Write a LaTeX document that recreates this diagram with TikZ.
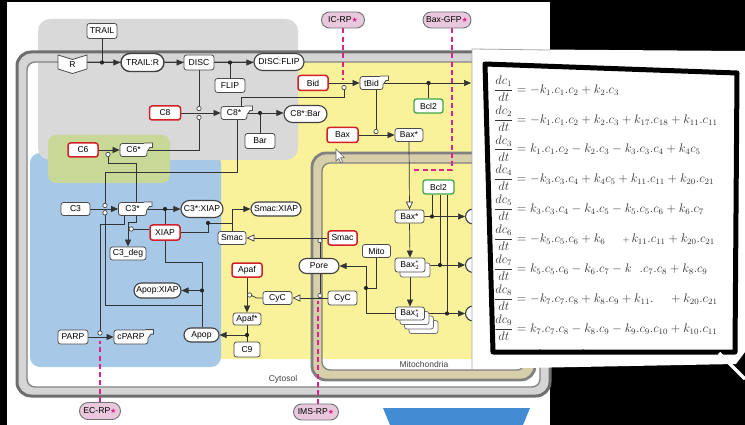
\documentclass[tikz,border=0pt]{standalone}
\usepackage{fontspec}
\usepackage{graphicx}
\setsansfont{Liberation Sans}
\newfontfamily\dejavu{DejaVu Sans}
\usetikzlibrary{arrows.meta,shapes.misc,calc}
\pgfdeclarelayer{bg}\pgfdeclarelayer{edges}\pgfdeclarelayer{top}
\pgfsetlayers{bg,edges,main,top}
\definecolor{yreg}{RGB}{250,241,155}
\definecolor{greg}{RGB}{217,217,217}
\definecolor{breg}{RGB}{168,200,232}
\definecolor{gnreg}{RGB}{200,216,150}
\definecolor{memfill}{RGB}{213,213,213}
\definecolor{memline}{RGB}{110,110,110}
\definecolor{mitofill}{RGB}{214,207,170}
\definecolor{mitoline}{RGB}{128,128,128}
\definecolor{nline}{RGB}{75,75,75}
\definecolor{redl}{RGB}{208,32,40}
\definecolor{grnl}{RGB}{64,165,72}
\definecolor{rpfill}{RGB}{233,200,222}
\definecolor{rpmag}{RGB}{226,32,140}
\definecolor{blueshape}{RGB}{66,140,212}
\newcommand\rpstar{{\color{rpmag}\dejavu\fontsize{7}{8}\selectfont ★}}
\newcommand\dotat[1]{\fill[black!85] (#1) circle (2.1pt);}
\newcommand\circat[1]{\draw[black!80,line width=0.6pt,fill=white] (#1) circle (2.2pt);}
\newcommand\actab[1]{%
  \fill[white] ($(#1.north east)+(-3,0)$) -- ++(8,0) -- ++(0,4.5) -- ++(-2.5,0) -- ++(-2.5,3.5) -- ++(-3,0) -- cycle;
  \draw[nline,line width=0.8pt] ($(#1.north east)+(-3,0)$) -- ++(8,0) -- ++(0,4.5) -- ++(-2.5,0) -- ++(-2.5,3.5);}
\newcommand\eqs[1]{\scalebox{1.05}[1.04]{$\displaystyle #1$}}
\tikzset{
  box/.style={rectangle, rounded corners=2.5pt, draw=nline, fill=white, line width=0.8pt, inner sep=1pt},
  redbox/.style={box, draw=redl, line width=1.5pt},
  grnbox/.style={box, draw=grnl, line width=1.3pt},
  pill/.style={rounded rectangle, draw=black!75, fill=white, line width=1.1pt, inner xsep=1pt, inner ysep=1pt},
  rp/.style={pill, fill=rpfill, draw=black!55, line width=0.9pt},
  shadowbox/.style={box, draw=nline!80},
  link/.style={draw=black!80, line width=0.7pt},
  arr/.style={link, -{Triangle[length=7pt,width=6pt]}},
  oarr/.style={link, -{Triangle[open,length=8pt,width=7pt,fill=white]}},
  rpline/.style={draw=rpmag, line width=2.2pt, dash pattern=on 5pt off 3.3pt},
  eqn/.style={anchor=west, inner sep=0pt, text=black!80, font=\fontsize{12}{14}\selectfont},
  lbl/.style={font=\sffamily\fontsize{8.5}{10}\selectfont, text=black!75},
}
\begin{document}
\begin{tikzpicture}[x=1pt,y=-1pt,font=\sffamily\fontsize{8.6}{10}\selectfont]
\useasboundingbox (0,0) rectangle (745,425);
% ---------------- background and regions
\begin{pgfonlayer}{bg}
\fill[black] (0,0) rectangle (745,425);
\fill[white] (7,2.5) rectangle (550,425);
\fill[blueshape] (383,408) -- (530,408) -- (523,425) -- (390,425) -- cycle;
\fill[yreg, rounded corners=6] (292,57) -- (560,57) -- (560,359) -- (177,359) -- (177,307) -- (130,307) -- (130,263) -- (213,263) -- (213,158) -- (292,158) -- cycle;
\fill[breg, rounded corners=10] (30,153) rectangle (221,367);
\fill[greg, rounded corners=12] (38,19) rectangle (298,160);
\fill[gnreg, rounded corners=8] (48,135) rectangle (170,183);
% cell membrane
\fill[memfill, even odd rule] [rounded corners=14] (17,52) rectangle (550,396) [rounded corners=8] (27,62) rectangle (540,387);
\draw[memline, line width=3pt, rounded corners=14] (17,52) rectangle (550,396);
\draw[memline!85, line width=1.4pt, rounded corners=8] (27,62) rectangle (540,387);
% mitochondrion membrane
\fill[mitofill, even odd rule] [rounded corners=14] (312,153) rectangle (535,380) [rounded corners=8] (322,163) rectangle (525,370);
\draw[mitoline, line width=2.8pt, rounded corners=14] (312,153) rectangle (535,380);
\draw[mitoline, line width=1.3pt, rounded corners=8] (322,163) rectangle (525,370);
\end{pgfonlayer}
% ---------------- nodes
\node[lbl] (cyt) at (283,379.5) {Cytosol};
\node[lbl] (mitlab) at (424,364.5) {Mitochondria};
\draw[fill=white, draw=black!60, line width=0.6pt] (336,149) -- (336,161) -- (338.8,158.5) -- (340.8,163) -- (342.6,162.2) -- (340.6,157.8) -- (344.3,157.6) -- cycle;
\draw[fill=white, draw=nline, line width=0.8pt] (58,55) -- (72.5,59.5) -- (87,55) -- (87,69) -- (72.5,73.5) -- (58,69) -- cycle;
\node[minimum width=29pt, minimum height=14pt, inner sep=0pt] (R) at (72.5,65) {R};
\node[box, minimum width=30pt, minimum height=15pt] (TRAIL) at (102,31) {TRAIL};
\node[pill, minimum width=45pt, minimum height=18pt, line width=1.4pt] (TRAILR) at (142.5,62.5) {TRAIL:R};
\node[box, minimum width=30pt, minimum height=15pt] (DISC) at (199,62.5) {DISC};
\node[pill, minimum width=52pt, minimum height=17pt] (DISCFLIP) at (279,62) {DISC:FLIP};
\node[box, minimum width=30pt, minimum height=14pt] (FLIP) at (230,85.5) {FLIP};
\node[redbox, minimum width=31pt, minimum height=14pt] (C8) at (165,113) {C8};
\node[box, minimum width=26pt, minimum height=13pt] (C8s) at (234,113) {C8*};
\node[pill, minimum width=45pt, minimum height=17pt] (C8Bar) at (305.5,114) {C8*:Bar};
\node[box, minimum width=30pt, minimum height=15pt] (Bar) at (260,141) {Bar};
\node[redbox, minimum width=30pt, minimum height=15pt] (Bid) at (313,83) {Bid};
\node[box, minimum width=23pt, minimum height=13pt] (tBid) at (371.5,83) {tBid};
\node[grnbox, minimum width=29pt, minimum height=14pt] (Bcl2a) at (428.5,106) {Bcl2};
\node[redbox, minimum width=31pt, minimum height=15pt] (Bax) at (342.5,135) {Bax};
\node[box, minimum width=28pt, minimum height=13pt] (Baxa) at (409,135) {Bax*};
\node[rp, minimum width=45pt, minimum height=16pt] (ICRP) at (343,20) {IC-RP\rpstar};
\node[rp, minimum width=50pt, minimum height=16pt] (BaxGFP) at (447,20) {Bax-GFP\rpstar};
\node[rp, minimum width=43pt, minimum height=17pt] (ECRP) at (100,411) {EC-RP\rpstar};
\node[rp, minimum width=47pt, minimum height=16pt] (IMSRP) at (316,412) {IMS-RP\rpstar};
\node[redbox, minimum width=30pt, minimum height=14pt] (C6) at (83,150) {C6};
\node[box, minimum width=27pt, minimum height=13pt] (C6s) at (133.5,150) {C6*};
\node[box, minimum width=29pt, minimum height=13pt] (C3) at (75.5,209) {C3};
\node[box, minimum width=28pt, minimum height=13pt] (C3s) at (132.5,209) {C3*};
\node[pill, minimum width=44pt, minimum height=17pt] (C3XIAP) at (202,209) {C3*:XIAP};
\node[redbox, minimum width=30pt, minimum height=15pt] (XIAP) at (165,232.5) {XIAP};
\node[box, minimum width=36pt, minimum height=13pt] (C3deg) at (128,253.5) {C3\_deg};
\node[pill, minimum width=52pt, minimum height=14pt] (SmacXIAP) at (276,209) {Smac:XIAP};
\node[box, minimum width=28pt, minimum height=13pt] (Smac) at (232,238) {Smac};
\node[redbox, minimum width=29pt, minimum height=14pt] (Smacm) at (342.5,238) {Smac};
\node[box, minimum width=28pt, minimum height=13pt] (Mito) at (376.5,251) {Mito};
\node[pill, minimum width=42pt, minimum height=15pt] (Pore) at (319,266) {Pore};
\node[redbox, minimum width=30pt, minimum height=14pt] (Apaf) at (247,270) {Apaf};
\node[box, minimum width=29pt, minimum height=13pt] (CyC) at (277.5,298) {CyC};
\node[box, minimum width=29pt, minimum height=14pt] (CyCm) at (342.5,298) {CyC};
\node[box, minimum width=28pt, minimum height=12pt] (Apafs) at (247,319) {Apaf*};
\node[box, minimum width=26pt, minimum height=15pt] (C9) at (247,349.5) {C9};
\node[pill, minimum width=37pt, minimum height=14pt] (Apop) at (201.5,335) {Apop};
\node[pill, minimum width=49pt, minimum height=15pt] (ApopXIAP) at (157.5,290.5) {Apop:XIAP};
\node[box, minimum width=30pt, minimum height=14pt] (PARP) at (73,337) {PARP};
\node[box, minimum width=34pt, minimum height=14pt] (cPARP) at (131,337) {cPARP};
\node[grnbox, minimum width=31pt, minimum height=14pt] (Bcl2m) at (438.5,187) {Bcl2};
\node[box, minimum width=29pt, minimum height=13pt] (Baxb) at (409.5,216.5) {Bax*};
\node[shadowbox, minimum width=30pt, minimum height=14pt] (Baxcsh) at (415,270) {};
\node[box, minimum width=30pt, minimum height=14pt] (Baxc) at (410,265) {Bax$^{*}_{2}$};
\node[shadowbox, minimum width=29pt, minimum height=13pt] (Baxdsh3) at (423.5,327) {};
\node[shadowbox, minimum width=29pt, minimum height=13pt] (Baxdsh2) at (419,322.5) {};
\node[shadowbox, minimum width=29pt, minimum height=13pt] (Baxdsh1) at (414.5,318) {};
\node[box, minimum width=29pt, minimum height=13pt] (Baxd) at (410,313.5) {Bax$^{*}_{4}$};
\node[pill, anchor=west, minimum width=36pt, minimum height=15pt] (B1) at (465,216.5) {\phantom{B}\hspace{22pt}};
\node[pill, anchor=west, minimum width=36pt, minimum height=15pt] (B2) at (465,265) {B\hspace{22pt}};
\node[pill, anchor=west, minimum width=36pt, minimum height=15pt] (B3) at (465,313.5) {B\hspace{22pt}};
\actab{C8s}\actab{tBid}\actab{C6s}\actab{C3s}\actab{cPARP}
% ---------------- connectors
\coordinate (tBidOut) at (471,83);
\coordinate (cA) at (199,108.6);
\coordinate (cB) at (199,117.4);
\coordinate (cC) at (344,87.6);
\coordinate (cD) at (376,131.6);
\coordinate (cE) at (320,240.6);
\coordinate (cF) at (320,295.6);
\coordinate (cG) at (249.6,295);
\coordinate (cH) at (131.2,229);
\coordinate (cI) at (105,205.4);
\coordinate (cJ) at (105,212.8);
\coordinate (cK) at (100,333);
\coordinate (cL) at (108,154.4);
\coordinate (jP) at (366,288);
\coordinate (jA) at (247,335);
\coordinate (jX) at (202,290.5);
\coordinate (jS) at (208,223);
\coordinate (jS2) at (232,223);
\coordinate (jC) at (165,209);
\coordinate (jb1) at (432,216.5);
\coordinate (jb2) at (440,265);
\coordinate (jb3) at (447,313.5);
\coordinate (k1) at (105,172);
\coordinate (k2) at (202,305);
\coordinate (gfpCorner) at (452,170);
\coordinate (gfpEnd) at (413,170);
\coordinate (icEnd) at (343,80);
\coordinate (ecEnd) at (100,341);
\coordinate (imsEnd) at (318,301);
\begin{pgfonlayer}{edges}
% receptor complex
\draw[arr] (R.east |- TRAILR.west) -- (TRAILR.west);
\draw[link] (TRAIL.south) -- (TRAIL.south |- TRAILR.west);
\dotat{TRAIL.south |- TRAILR.west}
\draw[arr] (TRAILR.east) -- (DISC.west);
\draw[arr] (DISC.east) -- (DISCFLIP.west |- DISC.east);
\draw[link] (FLIP.north) -- (FLIP.north |- DISC.east);
\dotat{FLIP.north |- DISC.east}
% C8 activation
\draw[arr] (C8.east) -- (C8s.west);
\draw[link] (DISC.south) -- ($(cA)+(0,-2.2)$);
\draw[link] (C6s.east) -- (C6s.east -| cB) -- ($(cB)+(0,2.2)$);
\draw[arr] (C8s.east) -- (C8Bar.west |- C8s.east);
\draw[link] (Bar.north) -- (Bar.north |- C8s.east);
\dotat{Bar.north |- C8s.east}
% Bid
\draw[arr] (Bid.east) -- (tBid.west);
\draw[link] ($(C8s.north)+(7,0)$) |- ($(cC)+(0,9.4)$) -- ($(cC)+(0,2.2)$);
\draw[arr] (tBid.east) -- (tBidOut);
\draw[link] (Bcl2a.north) -- (Bcl2a.north |- tBid.east);
\dotat{Bcl2a.north |- tBid.east}
% Bax
\draw[arr] (Bax.east) -- (Baxa.west);
\draw[link] (tBid.south -| cD) -- ($(cD)+(0,-2.2)$);
\draw[oarr] (Baxa.south) -- (Baxb.north);
\draw[link] (Bcl2m.south -| jb1) -- (jb1);
\draw[link] (Bcl2m.south -| jb2) -- (jb2);
\draw[link] (Bcl2m.south -| jb3) -- (jb3);
\draw[arr] (Baxb.east) -- (B1.west);
\draw[arr] (Baxb.south) -- (Baxc.north);
\draw[arr] (Baxc.east) -- (B2.west);
\draw[arr] (Baxc.south) -- (Baxd.north);
\draw[arr] (Baxd.east) -- (B3.west);
\dotat{jb1}\dotat{jb2}\dotat{jb3}
% pore
\draw[link] (Baxd.west) -| (jP);
\draw[link] (Mito.south) |- (jP);
\draw[arr] (jP) |- (Pore.east);
\dotat{jP}
\draw[link] (Pore.north -| cE) -- ($(cE)+(0,2.2)$);
\draw[link] (Pore.south -| cF) -- ($(cF)+(0,-2.2)$);
\draw[oarr] (Smacm.west) -- (Smac.east);
\draw[oarr] (CyCm.west) -- (CyC.east);
% apoptosome
\draw[arr] (Apaf.south) -- (Apafs.north);
\draw[link] (CyC.west) -- ++(-6,0) -- ($(cG)+(2.1,0.6)$);
\draw[link] (Apafs.south) -- (jA);
\draw[link] (C9.north) -- (jA);
\draw[arr] (jA) -- (Apop.east);
\dotat{jA}
\draw[link] (XIAP.south) -- ++(0,22) -| (jX);
\draw[link] (Apop.north -| jX) -- (jX);
\draw[arr] (jX) -- (ApopXIAP.east |- jX);
\dotat{jX}
% XIAP / Smac
\draw[link] (XIAP.east) -| (jS);
\draw[arr] (jS) -- (jS2) |- (SmacXIAP.west);
\draw[link] (Smac.north) -- (jS2);
\dotat{jS}
\draw[arr] (C3s.east) -- (C3XIAP.west);
\draw[link] (XIAP.north) -- (jC);
\dotat{jC}
\draw[link] (XIAP.west |- cH) -- ($(cH)+(2.2,0)$);
\draw[arr] ($(C3s.south)+(4,0)$) -- ++(0,6.5) -| (C3deg.north);
% C3, C6, PARP
\draw[arr] (C3.east) -- (C3s.west);
\draw[link] ($(C8s.south)+(3,0)$) |- (k1) -- ($(cI)+(0,-2.2)$);
\draw[link] ($(cJ)+(0,2.2)$) |- (k2);
\draw[link] ($(C3s.south west)+(6,0)$) -- ++(0,8.5) -| ($(cK)+(0,-2.2)$);
\draw[arr] (PARP.east) -- (cPARP.west);
\draw[arr] (C6.east) -- (C6s.west);
\draw[link] ($(C3s.north)+(4,0)$) |- ($(cL)+(0,8.6)$) -- ($(cL)+(0,2.2)$);
\circat{cA}\circat{cB}\circat{cC}\circat{cD}\circat{cE}\circat{cF}\circat{cG}
\circat{cH}\circat{cI}\circat{cJ}\circat{cK}\circat{cL}
% reporters
\draw[rpline] (ICRP.south) -- (icEnd);
\draw[rpline] ($(BaxGFP.south)+(5,0)$) -- (gfpCorner) -- (gfpEnd);
\draw[rpline] (ECRP.north) -- (ecEnd);
\draw[rpline] (imsEnd |- IMSRP.north) -- (imsEnd);
\end{pgfonlayer}
% ---------------- equations panel
\begin{pgfonlayer}{top}
\fill[white] (472,49) -- (745,51) -- (745,352) -- (736,364) -- (472,369) -- cycle;
\draw[black!35, line width=0.8pt] (472,369) -- (472,49) -- (550,50);
\begin{scope}
\clip (488,67) -- (734,75) -- (732,349) -- (496,349) -- cycle;
\node[eqn] (eq1) at (494,89) {\eqs{\frac{dc_1}{dt} = -k_1.c_1.c_2 + k_2.c_3}};
\node[eqn] (eq2) at (494,119) {\eqs{\frac{dc_2}{dt} = -k_1.c_1.c_2 + k_2.c_3 + k_{17}.c_{18} + k_{11}.c_{11}}};
\node[eqn] (eq3) at (494,148.5) {\eqs{\frac{dc_3}{dt} = k_1.c_1.c_2 - k_2.c_3 - k_3.c_3.c_4 + k_4c_5}};
\node[eqn] (eq4) at (494,178) {\eqs{\frac{dc_4}{dt} = -k_3.c_3.c_4 + k_4c_5 + k_{11}.c_{11} + k_{20}.c_{21}}};
\node[eqn] (eq5) at (494,208) {\eqs{\frac{dc_5}{dt} = k_3.c_3.c_4 - k_4.c_5 - k_5.c_5.c_6 + k_6.c_7}};
\node[eqn] (eq6) at (494,238) {\eqs{\frac{dc_6}{dt} = -k_5.c_5.c_6 + k_6\phantom{.c_7}\;{\scriptstyle +}\,k_{11}.c_{11} + k_{20}.c_{21}}};
\node[eqn] (eq7) at (494,268) {\eqs{\frac{dc_7}{dt} = k_5.c_5.c_6 - k_6.c_7 - k_{\phantom{7}}\;.c_7.c_8 + k_8.c_9}};
\node[eqn] (eq8) at (494,298) {\eqs{\frac{dc_8}{dt} = -k_7.c_7.c_8 + k_8.c_9 + k_{11}.\phantom{c_{11}} + k_{20}.c_{21}}};
\node[eqn] (eq9) at (494,328) {\eqs{\frac{dc_9}{dt} = k_7.c_7.c_8 - k_8.c_9 - k_9.c_9.c_{10} + k_{10}.c_{11}}};
\node[eqn] (eq10) at (527,355) {\eqs{-k.\,c.\,c + k.\,c}};
\end{scope}
\draw[black, line width=5pt, line join=round] (485,64) -- (737,73) -- (735,352) -- (493,352) -- cycle;
\draw[white, line width=3.5pt] (719,353) -- (745,379);
\end{pgfonlayer}
\end{tikzpicture}
\end{document}
